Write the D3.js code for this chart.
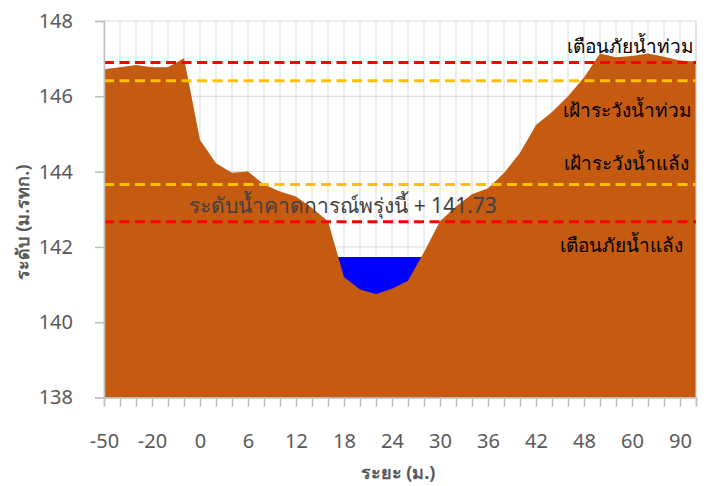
<!DOCTYPE html>
<html>
<head>
<meta charset="utf-8">
<script src="https://cdn.jsdelivr.net/npm/d3@7"></script>
<style>
  html, body { margin: 0; padding: 0; background: #fff; }
  svg { display: block; font-family: Tahoma, "Noto Sans", "DejaVu Sans", sans-serif; }
</style>
</head>
<body>
<svg id="chart" width="710" height="486"></svg>
<script>
// ---- data ----
const categories = [-50, -40, -30, -20, -10, -5, 0, 2, 4, 6, 8, 10, 12, 14, 16, 18, 20, 22, 24, 26,
  28, 30, 32, 34, 36, 38, 40, 42, 44, 46, 48, 50, 55, 60, 70, 80, 90, 100];
const groundLevel = [146.72, 146.77, 146.83, 146.77, 146.77, 147.01, 144.84, 144.22, 143.97, 144.0,
  143.66, 143.47, 143.34, 143.03, 142.68, 141.2, 140.87, 140.75, 140.89, 141.1,
  141.86, 142.68, 143.07, 143.4, 143.56, 143.96, 144.5, 145.24, 145.58, 146.0,
  146.5, 147.14, 147.04, 147.07, 147.14, 147.05, 146.95, 146.92];
const forecastLevel = 141.73;
const waterLevel = categories.map((c, i) => (i >= 14 && i <= 21) ? forecastLevel : null);
const yTicks = [138, 140, 142, 144, 146, 148];
const thresholdNames = ["เตือนภัยน้ำท่วม", "เฝ้าระวังน้ำท่วม", "เฝ้าระวังน้ำแล้ง", "เตือนภัยน้ำแล้ง"];
const thresholdValues = [146.9, 146.41, 143.66, 142.67];
const thresholdColors = ["#FF0000", "#FFC000", "#FFC000", "#FF0000"];
const forecastLabel = "ระดับน้ำคาดการณ์พรุ่งนี้ + 141.73";
const xTitle = "ระยะ (ม.)";
const yTitle = "ระดับ (ม.รทก.)";

// ---- layout ----
(function () {
const svg = d3.select("#chart");
const pl = 104, pr = 696, pt = 21, pb = 397.5;
const idx = categories.map((c, i) => i);
const x = d3.scalePoint().domain(idx).range([pl, pr]);
const y = d3.scaleLinear().domain([138, 148]).range([pb, pt]);
const FONT = "Tahoma, 'Noto Sans', 'DejaVu Sans', sans-serif";

// gridlines
const grid = svg.append("g");
grid.selectAll("line.v").data(idx).join("line").attr("class", "v")
  .attr("x1", d => x(d)).attr("x2", d => x(d))
  .attr("y1", pt).attr("y2", pb)
  .attr("stroke", "#d9d9d9").attr("stroke-width", 1);
grid.selectAll("line.h").data(yTicks).join("line").attr("class", "h")
  .attr("x1", pl).attr("x2", pr)
  .attr("y1", d => y(d)).attr("y2", d => y(d))
  .attr("stroke", "#d9d9d9").attr("stroke-width", 1);

// water area
const waterArea = d3.area()
  .defined(d => d != null)
  .x((d, i) => x(i)).y0(y(138)).y1(d => y(d));
svg.append("path").datum(waterLevel)
  .attr("d", waterArea).attr("fill", "#0000FF");

// ground area
const groundArea = d3.area()
  .x((d, i) => x(i)).y0(y(138)).y1(d => y(d));
svg.append("path").datum(groundLevel)
  .attr("d", groundArea).attr("fill", "#C55A11");

// right border
svg.append("line").attr("x1", pr).attr("x2", pr).attr("y1", pt).attr("y2", pb)
  .attr("stroke", "#d9d9d9");

// threshold lines
svg.append("g").selectAll("line").data(thresholdValues).join("line")
  .attr("x1", pl).attr("x2", pr)
  .attr("y1", d => y(d)).attr("y2", d => y(d))
  .attr("stroke", (d, i) => thresholdColors[i])
  .attr("stroke-width", 3)
  .attr("stroke-dasharray", "10,5.5");

// axes
const yAxis = d3.axisLeft(y).tickValues(yTicks).tickSize(9).tickPadding(22).tickFormat(d3.format("d"));
const gy = svg.append("g").attr("transform", `translate(${pl},0)`).call(yAxis);
gy.select(".domain").attr("stroke", "#bfbfbf").attr("stroke-width", 1.5);
gy.selectAll(".tick line").attr("stroke", "#bfbfbf").attr("stroke-width", 1.5);
gy.selectAll(".tick text").attr("fill", "#595959").attr("font-size", 20).attr("font-family", FONT);

const xAxis = d3.axisBottom(x).tickSize(9).tickPadding(27)
  .tickFormat(i => i % 3 === 0 ? String(categories[i]) : "");
const gx = svg.append("g").attr("transform", `translate(0,${pb})`).call(xAxis);
gx.select(".domain").attr("stroke", "#bfbfbf").attr("stroke-width", 1.5);
gx.selectAll(".tick line").attr("stroke", "#bfbfbf").attr("stroke-width", 1.5);
gx.selectAll(".tick text").attr("fill", "#595959").attr("font-size", 20).attr("font-family", FONT);

// threshold labels
const labelPos = [[630, 53], [627.5, 116.5], [626.5, 170], [621, 251.5]];
svg.append("g").selectAll("text").data(thresholdNames).join("text")
  .attr("x", (d, i) => labelPos[i][0]).attr("y", (d, i) => labelPos[i][1])
  .attr("text-anchor", "middle").attr("font-size", 19).attr("fill", "#000")
  .text(d => d);

// forecast label
svg.append("text").attr("x", 343).attr("y", 213)
  .attr("text-anchor", "middle").attr("font-size", 21).attr("fill", "#404040")
  .text(forecastLabel);

// axis titles
svg.append("text").attr("x", 398).attr("y", 479)
  .attr("text-anchor", "middle").attr("font-size", 18).attr("font-weight", "bold")
  .attr("fill", "#595959").text(xTitle);
svg.append("text").attr("transform", "translate(29,222) rotate(-90)")
  .attr("text-anchor", "middle").attr("font-size", 18).attr("font-weight", "bold")
  .attr("fill", "#595959").text(yTitle);
})();
</script>
</body>
</html>
